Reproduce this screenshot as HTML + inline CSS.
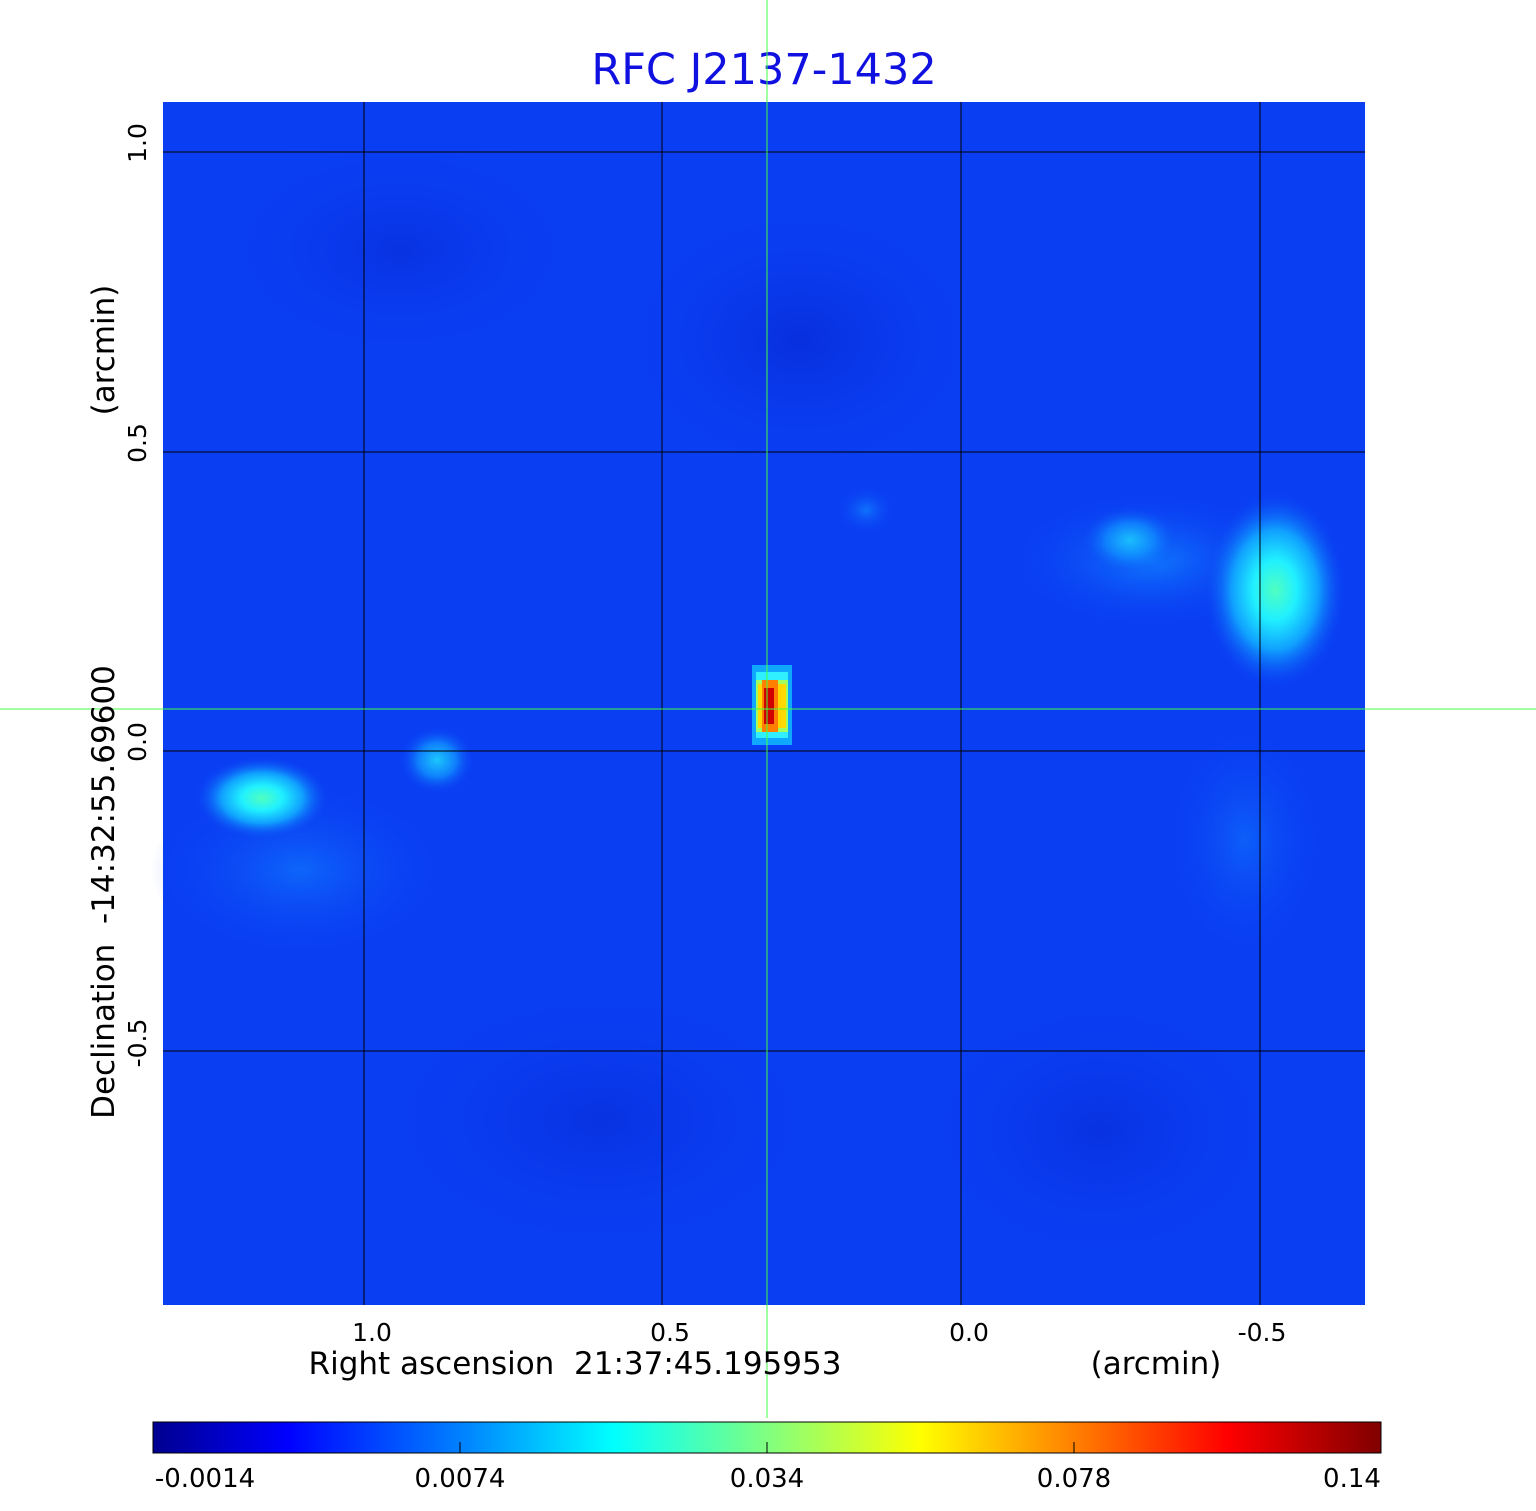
<!DOCTYPE html>
<html><head><meta charset="utf-8"><style>
body{margin:0;background:#fff;}
svg{display:block;font-family:"DejaVu Sans","Liberation Sans",sans-serif;}
text{white-space:pre;}
</style></head><body>
<svg width="1536" height="1511" viewBox="0 0 1536 1511" xmlns="http://www.w3.org/2000/svg">
<defs>
<radialGradient id="b1"><stop offset="0" stop-color="#50ffc0"/><stop offset="0.3" stop-color="#20f0ff"/><stop offset="0.6" stop-color="#10a0ff"/><stop offset="1" stop-color="#0b3ff2" stop-opacity="0"/></radialGradient>
<radialGradient id="b2"><stop offset="0" stop-color="#20e8ff"/><stop offset="0.5" stop-color="#1090ff"/><stop offset="1" stop-color="#0b3ff2" stop-opacity="0"/></radialGradient>
<radialGradient id="b3"><stop offset="0" stop-color="#1080ff"/><stop offset="1" stop-color="#0b3ff2" stop-opacity="0"/></radialGradient>
<radialGradient id="d1"><stop offset="0" stop-color="#0520c8"/><stop offset="1" stop-color="#0b3ff2" stop-opacity="0"/></radialGradient>
<linearGradient id="jet" x1="0" x2="1"><stop offset="0" stop-color="#00008f"/><stop offset="0.11" stop-color="#0000ff"/><stop offset="0.125" stop-color="#0010ff"/><stop offset="0.25" stop-color="#0080ff"/><stop offset="0.375" stop-color="#00ffff"/><stop offset="0.5" stop-color="#80ff80"/><stop offset="0.625" stop-color="#ffff00"/><stop offset="0.75" stop-color="#ff8000"/><stop offset="0.875" stop-color="#ff0000"/><stop offset="1" stop-color="#800000"/></linearGradient>
</defs>
<text x="764" y="84" font-size="43" fill="#1010e0" text-anchor="middle">RFC J2137-1432</text>
<rect x="163" y="102" width="1202" height="1203" fill="#0a3ef3"/>
<ellipse cx="800" cy="340" rx="200" ry="150" fill="url(#d1)" opacity="0.5"/>
<ellipse cx="400" cy="250" rx="200" ry="120" fill="url(#d1)" opacity="0.4"/>
<ellipse cx="600" cy="1120" rx="250" ry="150" fill="url(#d1)" opacity="0.4"/>
<ellipse cx="1100" cy="1130" rx="200" ry="150" fill="url(#d1)" opacity="0.4"/>
<ellipse cx="1150" cy="560" rx="140" ry="70" fill="url(#b3)" opacity="0.9"/>
<ellipse cx="300" cy="870" rx="150" ry="90" fill="url(#b3)" opacity="0.6"/>
<ellipse cx="1245" cy="840" rx="80" ry="120" fill="url(#b3)" opacity="0.5"/>
<ellipse cx="1275" cy="590" rx="72" ry="100" fill="url(#b1)"/>
<ellipse cx="1130" cy="540" rx="50" ry="35" fill="url(#b2)" opacity="0.7"/>
<ellipse cx="262" cy="798" rx="68" ry="42" fill="url(#b1)"/>
<ellipse cx="437" cy="760" rx="38" ry="34" fill="url(#b2)" opacity="0.8"/>
<ellipse cx="866" cy="510" rx="30" ry="25" fill="url(#b3)" opacity="0.8"/>
<rect x="752" y="665" width="40" height="80" fill="#10a8ff"/>
<rect x="756" y="672" width="32" height="66" fill="#30f0ff"/>
<rect x="756" y="680" width="32" height="52" fill="#a0ff60"/>
<rect x="758" y="684" width="28" height="44" fill="#ffd800"/>
<rect x="762" y="680" width="16" height="52" fill="#ff8000"/>
<rect x="764" y="688" width="10" height="36" fill="#d00000"/>
<g stroke="#000" stroke-width="1">
<line x1="364" y1="102" x2="364" y2="1305"/><line x1="662" y1="102" x2="662" y2="1305"/><line x1="961" y1="102" x2="961" y2="1305"/><line x1="1260" y1="102" x2="1260" y2="1305"/>
<line x1="163" y1="152" x2="1365" y2="152"/><line x1="163" y1="452" x2="1365" y2="452"/><line x1="163" y1="751" x2="1365" y2="751"/><line x1="163" y1="1051" x2="1365" y2="1051"/>
</g>
<g stroke="#40ff40" stroke-width="1"><line x1="767" y1="0" x2="767" y2="1418"/><line x1="0" y1="709" x2="1536" y2="709"/></g>
<g font-size="25" fill="#000" text-anchor="middle">
<text x="372" y="1341">1.0</text><text x="670" y="1341">0.5</text><text x="969" y="1341">0.0</text><text x="1262" y="1341">-0.5</text>
<text x="575" y="1374" font-size="31">Right ascension  21:37:45.195953</text>
<text x="1156" y="1374" font-size="31">(arcmin)</text>
<g transform="rotate(-90)">
<text x="-143" y="146">1.0</text><text x="-443" y="146">0.5</text><text x="-742" y="146">0.0</text><text x="-1043" y="146">-0.5</text>
<text x="-892" y="114" font-size="31">Declination  -14:32:55.69600</text>
<text x="-350" y="114" font-size="31">(arcmin)</text>
</g>
</g>
<rect x="153" y="1422" width="1228" height="31" fill="url(#jet)" stroke="#000" stroke-width="1"/>
<g stroke="#000"><line x1="460" y1="1442" x2="460" y2="1453"/><line x1="767" y1="1442" x2="767" y2="1453"/><line x1="1074" y1="1442" x2="1074" y2="1453"/></g>
<g font-size="26" fill="#000" text-anchor="middle">
<text x="205" y="1487">-0.0014</text><text x="460" y="1487">0.0074</text><text x="767" y="1487">0.034</text><text x="1074" y="1487">0.078</text><text x="1352" y="1487">0.14</text>
</g>
</svg>
</body></html>
